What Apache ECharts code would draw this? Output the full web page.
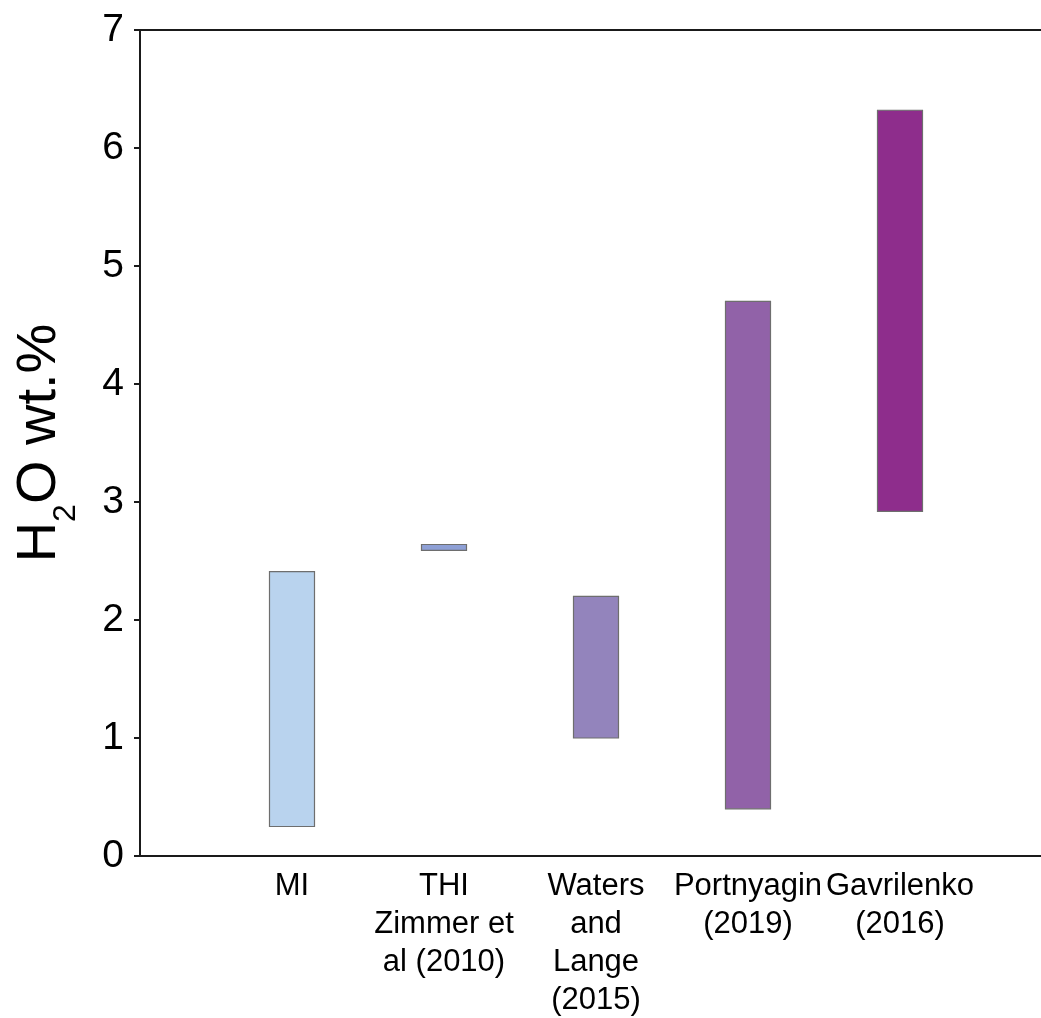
<!DOCTYPE html>
<html>
<head>
<meta charset="utf-8">
<script src="https://cdn.jsdelivr.net/npm/echarts@6/dist/echarts.min.js"></script>
<style>
  html, body { margin: 0; padding: 0; background: #fff; }
  #chart { width: 1041px; height: 1018px; }
</style>
</head>
<body>
<div id="chart"></div>
<script>
// Ranges of H2O content (wt.%) reported by each method / study
const categories = ['', 'MI', 'THI\nZimmer et\nal (2010)', 'Waters\nand\nLange\n(2015)', 'Portnyagin\n(2019)', 'Gavrilenko\n(2016)', ''];
const rangeLow  = [null, 0.25, 2.59, 1.00, 0.40, 2.92, null];
const rangeHigh = [null, 2.41, 2.64, 2.20, 4.70, 6.32, null];
const yTicks = [0, 1, 2, 3, 4, 5, 6, 7];

const fillColors = ['', '#b9d3ee', '#8ea0d6', '#9384bc', '#9162a8', '#8e2d8c', ''];
const barWidthPx = 45;

const rangeData = [];
categories.forEach(function (c, i) {
  if (rangeLow[i] != null) rangeData.push([i, rangeLow[i], rangeHigh[i]]);
});

const FONT = '"Liberation Sans", Arial, Helvetica, sans-serif';
const chart = echarts.init(document.getElementById('chart'), null, { renderer: 'canvas' });

chart.setOption({
  animation: false,
  backgroundColor: '#ffffff',
  grid: {
    left: 140, top: 30, bottom: 162, right: -11,
    containLabel: false,
    outerBoundsMode: 'none',
    show: true, borderColor: '#1a1a1a', borderWidth: 2, backgroundColor: 'transparent'
  },
  xAxis: {
    type: 'category',
    data: categories,
    boundaryGap: false,
    axisLine: { lineStyle: { color: '#1a1a1a', width: 2 } },
    axisTick: { show: false },
    splitLine: { show: false },
    axisLabel: {
      interval: 0,
      margin: 11,
      color: '#000',
      fontFamily: FONT,
      fontSize: 31,
      lineHeight: 38,
      align: 'center'
    }
  },
  yAxis: {
    type: 'value',
    min: yTicks[0],
    max: yTicks[yTicks.length - 1],
    interval: 1,
    axisLine: { show: true, lineStyle: { color: '#1a1a1a', width: 2 } },
    axisTick: { show: true, length: 6, lineStyle: { color: '#1a1a1a', width: 2 } },
    splitLine: { show: false },
    axisLabel: {
      margin: 16,
      color: '#000',
      fontFamily: FONT,
      fontSize: 39
    },
    name: '{m|H}{s|2}{m|O wt.%}',
    nameLocation: 'middle',
    nameRotate: 90,
    nameGap: 58,
    nameTextStyle: {
      rich: {
        m: { fontFamily: FONT, fontSize: 56, color: '#000', lineHeight: 70, verticalAlign: 'top' },
        s: { fontFamily: FONT, fontSize: 32, color: '#000', lineHeight: 36, verticalAlign: 'bottom' }
      }
    }
  },
  series: [{
    type: 'custom',
    data: rangeData,
    encode: { x: 0, y: [1, 2] },
    renderItem: function (params, api) {
      const idx = api.value(0);
      const p0 = api.coord([idx, api.value(1)]);
      const p1 = api.coord([idx, api.value(2)]);
      return {
        type: 'rect',
        shape: {
          x: p0[0] - barWidthPx / 2,
          y: p1[1],
          width: barWidthPx,
          height: p0[1] - p1[1]
        },
        style: {
          fill: fillColors[idx],
          stroke: '#6e6e6e',
          lineWidth: 1.2
        }
      };
    }
  }]
});
</script>
</body>
</html>
